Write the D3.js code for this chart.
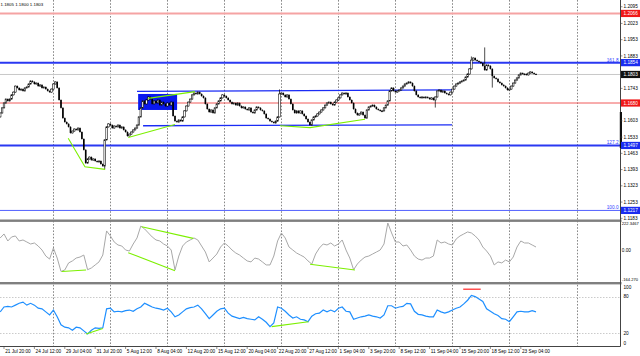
<!DOCTYPE html>
<html><head><meta charset="utf-8">
<script src="https://cdn.jsdelivr.net/npm/d3@7"></script>
<style>html,body{margin:0;padding:0;background:#fff;overflow:hidden}text{font-family:"Liberation Sans",Arial,sans-serif}</style>
</head><body><svg id="c" width="640" height="356"></svg>
<script>
// ---------- DATA ----------
const firstOpen = 1.1620;
const closes = [
1.1637,1.1659,1.1680,1.1697,1.1689,1.1697,1.1715,1.1727,1.1753,1.1745,
1.1736,1.1740,1.1732,1.1745,1.1749,1.1762,1.1775,1.1771,1.1762,1.1766,
1.1753,1.1758,1.1745,1.1749,1.1740,1.1732,1.1727,1.1740,1.1762,1.1771,
1.1745,1.1693,1.1659,1.1615,1.1598,1.1590,1.1577,1.1551,1.1559,1.1568,
1.1564,1.1572,1.1555,1.1525,1.1478,1.1421,1.1439,1.1447,1.1434,1.1439,
1.1430,1.1426,1.1430,1.1417,1.1408,1.1521,1.1577,1.1590,1.1585,1.1572,
1.1581,1.1577,1.1585,1.1572,1.1577,1.1564,1.1555,1.1538,1.1546,1.1555,
1.1564,1.1572,1.1585,1.1620,1.1659,1.1689,1.1676,1.1693,1.1706,1.1697,
1.1676,1.1689,1.1680,1.1693,1.1671,1.1684,1.1676,1.1667,1.1680,1.1671,
1.1684,1.1624,1.1602,1.1598,1.1607,1.1602,1.1620,1.1646,1.1667,1.1684,
1.1697,1.1715,1.1723,1.1719,1.1727,1.1719,1.1710,1.1702,1.1676,1.1654,
1.1641,1.1650,1.1637,1.1659,1.1676,1.1689,1.1702,1.1715,1.1710,1.1702,
1.1693,1.1684,1.1676,1.1680,1.1671,1.1680,1.1667,1.1659,1.1663,1.1654,
1.1650,1.1659,1.1641,1.1637,1.1650,1.1663,1.1659,1.1650,1.1646,1.1633,
1.1615,1.1611,1.1602,1.1598,1.1594,1.1602,1.1620,1.1719,1.1723,1.1715,
1.1706,1.1715,1.1697,1.1676,1.1650,1.1637,1.1646,1.1637,1.1646,1.1633,
1.1624,1.1611,1.1598,1.1585,1.1607,1.1620,1.1624,1.1633,1.1641,1.1650,
1.1659,1.1671,1.1680,1.1684,1.1676,1.1671,1.1684,1.1693,1.1702,1.1715,
1.1723,1.1719,1.1723,1.1706,1.1693,1.1680,1.1654,1.1637,1.1628,1.1633,
1.1641,1.1628,1.1615,1.1650,1.1663,1.1667,1.1671,1.1663,1.1654,1.1650,
1.1646,1.1646,1.1659,1.1671,1.1689,1.1732,1.1745,1.1732,1.1727,1.1732,
1.1736,1.1745,1.1753,1.1762,1.1766,1.1771,1.1766,1.1753,1.1732,1.1715,
1.1706,1.1702,1.1706,1.1702,1.1706,1.1702,1.1697,1.1702,1.1693,1.1706,
1.1732,1.1736,1.1727,1.1732,1.1723,1.1719,1.1715,1.1727,1.1740,1.1753,
1.1762,1.1766,1.1771,1.1775,1.1779,1.1792,1.1805,1.1827,1.1865,1.1874,
1.1865,1.1861,1.1857,1.1852,1.1840,1.1822,1.1844,1.1840,1.1827,1.1796,
1.1788,1.1784,1.1771,1.1766,1.1758,1.1753,1.1745,1.1736,1.1740,1.1753,
1.1766,1.1779,1.1788,1.1801,1.1809,1.1805,1.1805,1.1801,1.1809,1.1814,
1.1809,1.1805,1.1803];
// bars with a visible wick beyond the body
const wickBars = [55, 147, 229, 248, 255, 259];
const wickHigh = [1.1521, 1.1736, 1.1706, 1.1878, 1.1917, 1.1827];
const wickLow  = [1.1396, 1.1620, 1.1663, 1.1827, 1.1822, 1.1749];

// CCI and RSI, one value every second bar
const cciStep = 2;
const cci = [
103,135,79,111,119,79,87,71,55,63,
39,7,-41,-65,23,-57,-164,-152,-96,-80,
-57,-49,-33,-150,-136,-112,-88,-33,159,119,
71,47,39,7,-1,55,103,198,175,143,
111,87,79,55,39,7,-152,-41,39,71,
87,103,87,39,-9,-88,-57,-25,31,63,
39,7,-17,-33,-57,-80,-88,-57,-65,-88,
-112,-112,-41,79,143,103,31,7,-17,-33,
-49,-80,-105,-25,23,55,47,63,39,55,
87,7,-57,-150,-104,-73,-49,-41,-25,-9,
7,55,222.35,143,71,71,39,47,7,-41,
-65,-73,-57,-57,-41,87,63,71,55,47,
95,119,135,151,143,119,87,31,-1,-41,
-112,-88,-96,-73,-88,-49,31,79,63,63,
47,31];
const rsi = [
55,63,64,63,66,69,71,66,69,66,
61,60,55,50,58,47,34,30,29,25,
30,29,24,19,25,29,28,29,60,61,
55,56,55,57,58,56,60,63,69,66,
63,61,60,58,61,55,47,50,55,60,
62,63,66,60,52,44,50,56,60,61,
53,48,46,44,46,44,43,42,47,43,
38,31,37,63,61,56,50,45,47,43,
42,39,48,52,53,58,55,58,55,61,
63,56,55,43,45,47,48,50,48,47,
45,50,65,65,61,63,64,69,68,56,
51,50,48,47,47,58,55,53,55,58,
61,63,68,74,82,80,76,72,60,56,
52,49,44,43,39,47,55,56,55,55,
57,55];

const timeLabels = ["21 Jul 20:00","24 Jul 12:00","29 Jul 04:00","31 Jul 20:00","5 Aug 12:00","8 Aug 04:00","12 Aug 20:00","15 Aug 12:00","20 Aug 04:00","22 Aug 20:00","27 Aug 12:00","1 Sep 04:00","3 Sep 20:00","8 Sep 12:00","11 Sep 04:00","15 Sep 20:00","18 Sep 12:00","23 Sep 04:00"];
const timeLabelBars = [2,18,34,50,66,82,98,114,130,146,162,178,194,210,226,242,258,274];
const gridBars = [28,58,88,118,148,178,208,238,268,303.5];

const priceTicks = [1.2095,1.2023,1.1953,1.1883,1.1743,1.1603,1.1533,1.1463,1.1393,1.1323,1.1253,1.1183];
const levelPrices = [1.2066,1.1854,1.1803,1.1680,1.1497,1.1217];
const levelColors = ["#f5a3a3","#2a38f2","#c8c8c8","#f05a5a","#2a38f2","#5060ff"];
const levelWidths = [2,2,1,1,2,1];
const boxPrices = [1.2066,1.1854,1.1803,1.1680,1.1497,1.1217];
const boxColors = ["#f01818","#1a2cf0","#111111","#f01818","#1a2cf0","#1a2cf0"];
const fibNames = ["161.8","127.2","100.0"];
const fibPrices = [1.1854,1.1497,1.1217];

// channel lines [bar1, price1, bar2, price2]
const channelUpper = [72, 1.1730, 237.8, 1.1737];
const channelLower = [75.2, 1.1582, 237.8, 1.1586];
const zoneBox = [72.6, 1.1719, 93.1, 1.1650];
// green divergence lines (bar, value pairs)
const greenMain = [
  [[35.8,1.1528],[44.6,1.1405],[55.2,1.1394]],
  [[67.4,1.1531],[92,1.1587]],
  [[77.9,1.1700],[102.5,1.1729]],
  [[147.3,1.1582],[163.1,1.1574],[192,1.1610]]
];
const greenCci = [
  [[32.4,-164],[45.2,-152]],
  [[67.4,-14],[92,-158]],
  [[74.5,193],[101.6,100]],
  [[163.1,-107],[186.7,-152]]
];
const greenRsi = [
  [[45.2,19],[54,28]],
  [[142.9,31],[162.2,39]]
];
const redRsi = [[243.7,92],[252.9,92]];
const cciLabels = ["222.3467","0.00","-164.270"];
const rsiTicks = [100,80,20,0];
const header = "1.1805 1.1800 1.1803";

// ---------- DRAW ----------
const svg = d3.select('#c');
const FS = 4.7;
const xS = d3.scaleLinear().domain([0,303.5]).range([0.2,576.85]);
const yM = d3.scaleLinear().domain([1.2124-220/2320,1.2124]).range([220,0]);
const yC = d3.scaleLinear().domain([-164.27,222.35]).range([271.5,223]);
const yR = d3.scaleLinear().domain([0,100]).range([345.6,284.3]);
const PW = 620.5;

const defs = svg.append('defs');
[['cm',0,0,PW,219.5],['cc',0,222,PW,60],['cr',0,284.5,PW,62]].forEach(([id,x,y,w,h])=>{
  defs.append('clipPath').attr('id',id).append('rect').attr('x',x).attr('y',y).attr('width',w).attr('height',h);
});

// vertical grid
svg.append('g').selectAll('line').data(gridBars).join('line')
  .attr('x1',d=>Math.round(xS(d))+0.5).attr('x2',d=>Math.round(xS(d))+0.5)
  .attr('y1',0).attr('y2',346.5).attr('stroke','#6a6a6a').attr('stroke-width',0.8)
  .attr('stroke-dasharray','1.6,1.6');

const gm = svg.append('g').attr('clip-path','url(#cm)');
// levels
gm.selectAll('line.lv').data(levelPrices).join('line').attr('class','lv')
  .attr('x1',0).attr('x2',PW).attr('y1',d=>yM(d)).attr('y2',d=>yM(d))
  .attr('stroke',(d,i)=>levelColors[i]).attr('stroke-width',(d,i)=>levelWidths[i]);
// zone rectangle
gm.append('rect').attr('x',xS(zoneBox[0])).attr('y',yM(zoneBox[1]))
  .attr('width',xS(zoneBox[2])-xS(zoneBox[0])).attr('height',yM(zoneBox[3])-yM(zoneBox[1]))
  .attr('fill','#0a18ee');
// channel
[channelUpper,channelLower].forEach(c=>{
  gm.append('line').attr('x1',xS(c[0])).attr('y1',yM(c[1])).attr('x2',xS(c[2])).attr('y2',yM(c[3]))
    .attr('stroke','#1b2cf5').attr('stroke-width',1.3);
});
// candles
const bars = closes.map((c,i)=>{
  const o = i ? closes[i-1] : firstOpen;
  let hi = Math.max(o,c), lo = Math.min(o,c);
  const w = wickBars.indexOf(i);
  if (w>=0){hi = wickHigh[w]; lo = wickLow[w];}
  return {i,o,c,hi,lo};
});
gm.append('g').selectAll('line').data(bars).join('line')
  .attr('x1',d=>xS(d.i)).attr('x2',d=>xS(d.i)).attr('y1',d=>yM(d.hi)-0.6).attr('y2',d=>yM(d.lo)+0.6)
  .attr('stroke','#000').attr('stroke-width',0.7);
gm.append('g').selectAll('rect').data(bars).join('rect')
  .attr('x',d=>xS(d.i)-0.8).attr('width',1.6)
  .attr('y',d=>yM(Math.max(d.o,d.c)))
  .attr('height',d=>Math.max(0.9,Math.abs(yM(d.o)-yM(d.c))))
  .attr('fill',d=>d.c>=d.o?'#ffffff':'#000000')
  .attr('stroke',d=>d.c>=d.o?'#000':'none').attr('stroke-width',0.55);
// green lines
const lm = d3.line().x(d=>xS(d[0])).y(d=>yM(d[1]));
greenMain.forEach(g=>gm.append('path').attr('d',lm(g)).attr('fill','none').attr('stroke','#7cf000').attr('stroke-width',1.1));
// fib labels
svg.selectAll('text.fib').data(fibNames).join('text').attr('class','fib')
  .attr('x',618.5).attr('y',(d,i)=>yM(fibPrices[i])-1).attr('text-anchor','end')
  .attr('font-size',FS).attr('fill','#3040ff').text(d=>d);
// header
svg.append('text').attr('x',0.5).attr('y',6).attr('font-size',4.4).attr('fill','#000').text(header);

// CCI pane
const gc = svg.append('g').attr('clip-path','url(#cc)');
const lc = d3.line().x((d,k)=>xS(k*cciStep)).y(d=>yC(d));
gc.append('path').attr('d',lc(cci)).attr('fill','none').attr('stroke','#a8a8a8').attr('stroke-width',1);
const lg = d3.line().x(d=>xS(d[0])).y(d=>yC(d[1]));
greenCci.forEach(g=>gc.append('path').attr('d',lg(g)).attr('fill','none').attr('stroke','#7cf000').attr('stroke-width',1.1));

// RSI pane
const gr = svg.append('g').attr('clip-path','url(#cr)');
gr.selectAll('line.rg').data([80,20]).join('line').attr('class','rg')
  .attr('x1',0).attr('x2',PW).attr('y1',d=>Math.round(yR(d))+0.5).attr('y2',d=>Math.round(yR(d))+0.5)
  .attr('stroke','#b4b4b4').attr('stroke-width',0.7).attr('stroke-dasharray','1.5,1.5');
const lr = d3.line().x((d,k)=>xS(k*cciStep)).y(d=>yR(d));
gr.append('path').attr('d',lr(rsi)).attr('fill','none').attr('stroke','#1e8fff').attr('stroke-width',1.2);
const lrg = d3.line().x(d=>xS(d[0])).y(d=>yR(d[1]));
greenRsi.forEach(g=>gr.append('path').attr('d',lrg(g)).attr('fill','none').attr('stroke','#7cf000').attr('stroke-width',1.1));
gr.append('path').attr('d',lrg(redRsi)).attr('fill','none').attr('stroke','#ff5050').attr('stroke-width',1.6);

// separators and frame
svg.append('rect').attr('x',0).attr('y',219.5).attr('width',PW+1).attr('height',2.4).attr('fill','#7f7f7f');
svg.append('rect').attr('x',0).attr('y',282).attr('width',PW+1).attr('height',2.4).attr('fill','#7f7f7f');
svg.append('line').attr('x1',PW).attr('x2',PW).attr('y1',0).attr('y2',346.5).attr('stroke','#444').attr('stroke-width',1);
svg.append('line').attr('x1',0).attr('x2',PW).attr('y1',346.5).attr('y2',346.5).attr('stroke','#444').attr('stroke-width',1);
svg.append('rect').attr('x',619.8).attr('y',112).attr('width',2.2).attr('height',36).attr('fill','#111');

// price axis
const ax = svg.append('g');
ax.selectAll('line').data(priceTicks).join('line')
  .attr('x1',PW).attr('x2',PW+2).attr('y1',d=>yM(d)).attr('y2',d=>yM(d)).attr('stroke','#444').attr('stroke-width',0.6);
ax.selectAll('text').data(priceTicks).join('text')
  .attr('x',623.5).attr('y',d=>yM(d)+1.6).attr('font-size',FS).attr('fill','#000').text(d=>d.toFixed(4));
// price boxes
const bx = svg.append('g');
bx.selectAll('rect').data(boxPrices).join('rect')
  .attr('x',621).attr('y',d=>yM(d)-3.6).attr('width',19).attr('height',7.2).attr('fill',(d,i)=>boxColors[i]);
bx.selectAll('text').data(boxPrices).join('text')
  .attr('x',623.5).attr('y',d=>yM(d)+1.6).attr('font-size',FS).attr('fill','#fff').text(d=>d.toFixed(4));
// CCI labels
const cciY = [yC(222.35)+1.7, yC(0)+1.6, 281];
const cciFS = [4.1, FS, 4.1];
svg.selectAll('text.cl').data(cciLabels).join('text').attr('class','cl')
  .attr('x',621.8).attr('y',(d,i)=>cciY[i]).attr('font-size',(d,i)=>cciFS[i]).attr('fill','#000').text(d=>d);
// RSI labels
svg.selectAll('text.rl').data(rsiTicks).join('text').attr('class','rl')
  .attr('x',623.5).attr('y',d=>Math.min(344.5,Math.max(288.5,yR(d)+1.6))).attr('font-size',FS).attr('fill','#000').text(d=>d);
// time axis
const tx = svg.append('g');
tx.selectAll('line').data(timeLabelBars).join('line')
  .attr('x1',d=>xS(d)).attr('x2',d=>xS(d)).attr('y1',346.5).attr('y2',349).attr('stroke','#444').attr('stroke-width',0.6);
tx.selectAll('text').data(timeLabels).join('text')
  .attr('x',(d,i)=>xS(timeLabelBars[i])+1.2).attr('y',352.5).attr('font-size',FS).attr('fill','#000').text(d=>d);
</script></body></html>
